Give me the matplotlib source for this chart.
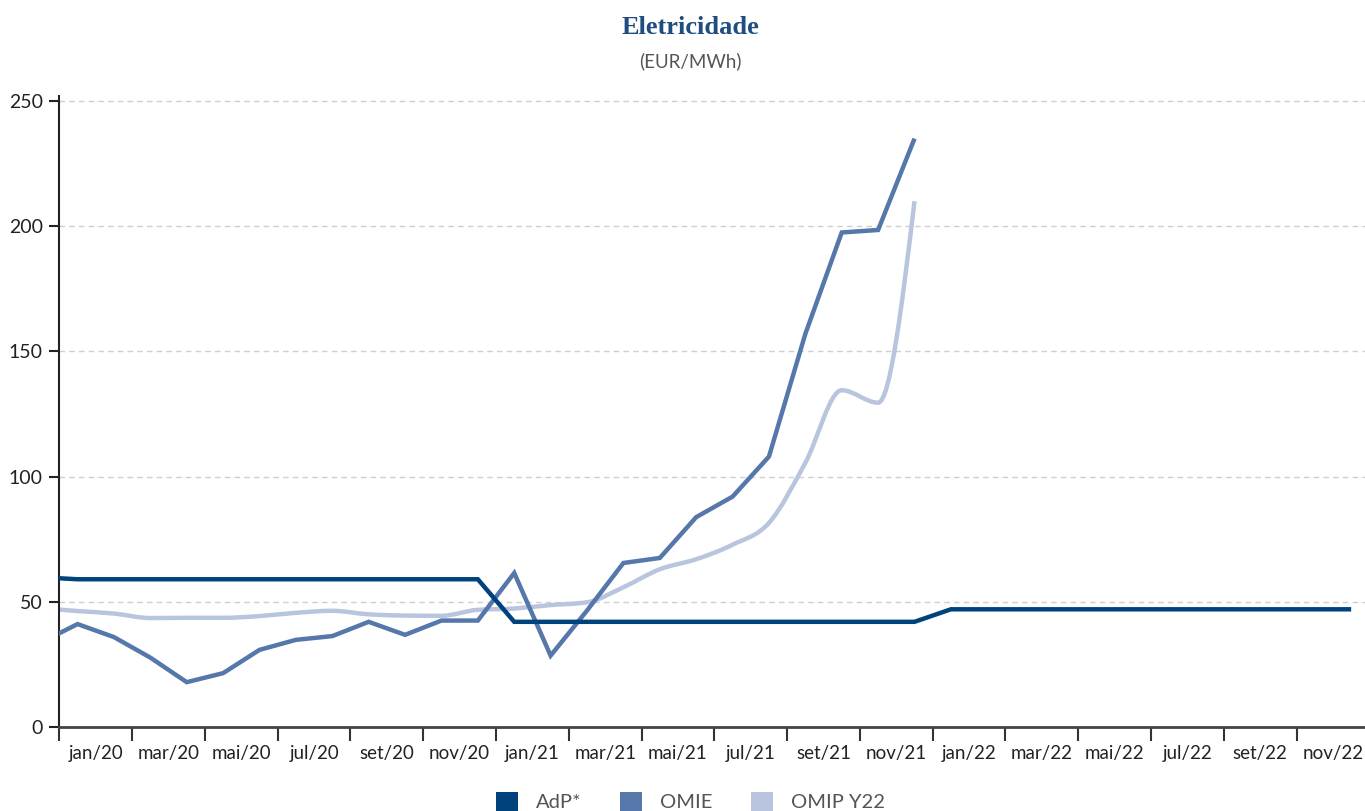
import numpy as np
import matplotlib.pyplot as plt
from matplotlib.path import Path
from matplotlib.patches import PathPatch, Patch

plt.rcParams['font.family'] = ['Lato', 'DejaVu Sans']

# indice do mes: -1 = dez/19 (fora do eixo), 0 = jan/20 ... 35 = dez/22
tick_labels = ['jan/20', 'mar/20', 'mai/20', 'jul/20', 'set/20', 'nov/20',
               'jan/21', 'mar/21', 'mai/21', 'jul/21', 'set/21', 'nov/21',
               'jan/22', 'mar/22', 'mai/22', 'jul/22', 'set/22', 'nov/22']

# AdP*: dez/19 .. dez/22
adp = [59.8,
       59.0, 59.0, 59.0, 59.0, 59.0, 59.0, 59.0, 59.0, 59.0, 59.0, 59.0, 59.0,
       42.0, 42.0, 42.0, 42.0, 42.0, 42.0, 42.0, 42.0, 42.0, 42.0, 42.0, 42.0,
       47.0, 47.0, 47.0, 47.0, 47.0, 47.0, 47.0, 47.0, 47.0, 47.0, 47.0, 47.0]

# OMIE: dez/19 .. dez/21
omie = [33.8,
        41.1, 35.9, 27.7, 17.9, 21.5, 30.8, 34.8, 36.3, 42.0, 36.8, 42.5, 42.5,
        61.5, 28.5, 46.5, 65.5, 67.5, 83.8, 92.0, 108.0, 157.0, 197.5, 198.5, 235.0]

# OMIP Y22: dez/19 .. dez/21
omip = [47.5,
        46.3, 45.3, 43.5, 43.6, 43.6, 44.3, 45.6, 46.4, 45.0, 44.5, 44.4, 46.8,
        47.3, 48.7, 49.8, 55.8, 63.0, 67.0, 72.8, 81.5, 105.5, 134.5, 129.5, 210.0]

c_adp = '#00427c'
c_omie = '#5577a9'
c_omip = '#b9c4df'


def monotone_path(x, y):
    # curva monotona (tipo d3 curveMonotoneX) em segmentos de bezier
    x = np.asarray(x, float)
    y = np.asarray(y, float)
    n = len(x)
    h = np.diff(x)
    s = np.diff(y) / h
    t = np.zeros(n)
    for i in range(1, n - 1):
        p = (s[i - 1] * h[i] + s[i] * h[i - 1]) / (h[i - 1] + h[i])
        t[i] = (np.sign(s[i - 1]) + np.sign(s[i])) * min(abs(s[i - 1]), abs(s[i]), 0.5 * abs(p))
    t[0] = (3 * s[0] - t[1]) / 2
    t[-1] = (3 * s[-1] - t[-2]) / 2
    verts = [(x[0], y[0])]
    codes = [Path.MOVETO]
    for i in range(n - 1):
        dx = h[i] / 3
        verts += [(x[i] + dx, y[i] + dx * t[i]), (x[i + 1] - dx, y[i + 1] - dx * t[i + 1]), (x[i + 1], y[i + 1])]
        codes += [Path.CURVE4] * 3
    return Path(verts, codes)


fig = plt.figure(figsize=(13.65, 8.11), dpi=100)
ax = fig.add_axes([0.0435, 0.1036, 0.9597, 0.778])

x_adp = np.arange(len(adp)) - 0.5
x_omie = np.arange(len(omie)) - 0.5
x_omip = np.arange(len(omip)) - 0.5

ax.add_patch(PathPatch(monotone_path(x_omip, omip), fill=False, edgecolor=c_omip, lw=3.2, zorder=2,
                       capstyle='butt', joinstyle='round'))
ax.plot(x_omie, omie, color=c_omie, lw=3.2, zorder=3, solid_joinstyle='miter', solid_capstyle='butt')
ax.plot(x_adp, adp, color=c_adp, lw=3.2, zorder=4, solid_joinstyle='miter', solid_capstyle='butt')

ax.set_xlim(0, 36)
ax.set_ylim(0, 252)

ax.set_yticks([0, 50, 100, 150, 200, 250])
ax.yaxis.grid(True, color='#cfcfcf', lw=1, linestyle=(0, (4, 3)))
ax.set_axisbelow(True)

ax.set_xticks(np.arange(0, 35, 2))
ax.set_xticklabels([])
ax.set_xticks(np.arange(1, 36, 2), minor=True)
ax.set_xticklabels(tick_labels, minor=True)
ax.tick_params(axis='x', which='major', length=10, width=1.5, color='#333333')
ax.tick_params(axis='x', which='minor', length=0, pad=13, labelsize=13.5, labelcolor='#222222')
ax.tick_params(axis='y', length=7, width=1.5, color='#222222', pad=5, labelsize=14, labelcolor='#222222')

for side in ['top', 'right']:
    ax.spines[side].set_visible(False)
ax.spines['left'].set_linewidth(1.5)
ax.spines['left'].set_color('#222222')
ax.spines['bottom'].set_linewidth(2)
ax.spines['bottom'].set_color('#444444')

fig.text(0.506, 0.966, 'Eletricidade', ha='center', va='center', fontsize=19, fontweight='bold',
         family='Liberation Serif', color='#1f4d7f')
fig.text(0.506, 0.924, '(EUR/MWh)', ha='center', va='center', fontsize=13.5, color='#555555')

handles = [Patch(facecolor=c_adp, label='AdP*'),
           Patch(facecolor=c_omie, label='OMIE'),
           Patch(facecolor=c_omip, label='OMIP Y22')]
leg = fig.legend(handles=handles, loc='center', bbox_to_anchor=(0.506, 0.012), ncol=3, frameon=False,
                 fontsize=14.5, handlelength=1.1, handleheight=1.1, handletextpad=0.9, columnspacing=1.9)
for t in leg.get_texts():
    t.set_color('#555555')

plt.savefig('out.png', dpi=100)
